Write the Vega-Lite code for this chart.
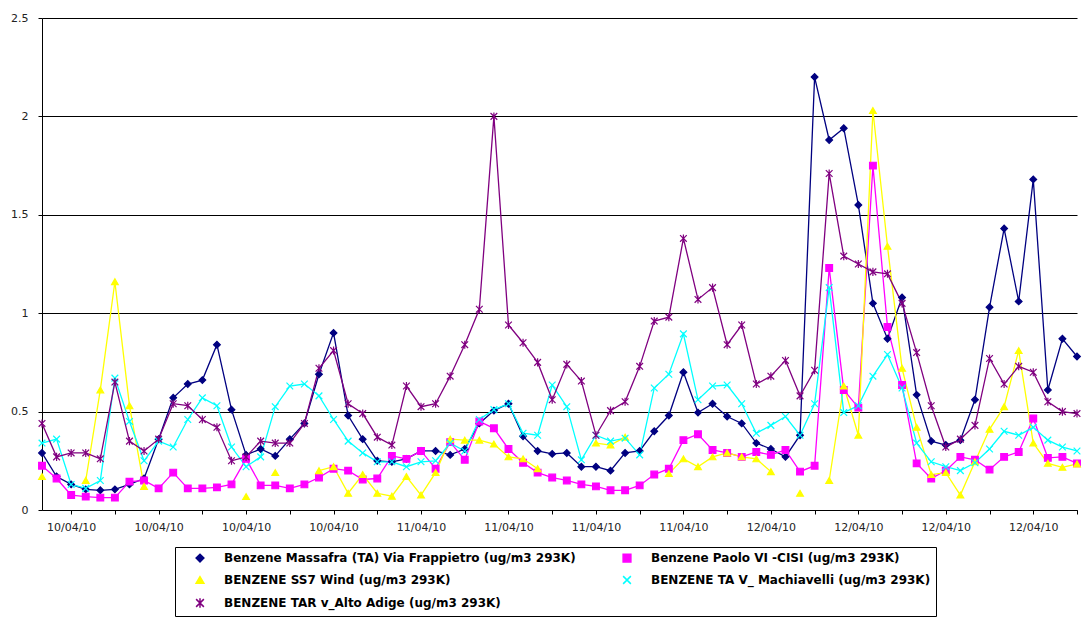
{
  "$schema": "https://vega.github.io/schema/vega-lite/v6.json",
  "width": 1035,
  "height": 492,
  "autosize": {"type": "none"},
  "padding": {"left": 42, "top": 18, "right": 10, "bottom": 107},
  "background": "white",
  "config": {"view": {"stroke": null}},
  "data": {"values": [
    {"t": "2010-04-10T01:00", "Massafra": 0.29, "Paolo VI": 0.225, "SS7": 0.17, "Machiavelli": 0.34, "Alto Adige": 0.44},
    {"t": "2010-04-10T02:00", "Massafra": 0.17, "Paolo VI": 0.16, "SS7": null, "Machiavelli": 0.36, "Alto Adige": 0.27},
    {"t": "2010-04-10T03:00", "Massafra": 0.13, "Paolo VI": 0.076, "SS7": null, "Machiavelli": 0.13, "Alto Adige": 0.29},
    {"t": "2010-04-10T04:00", "Massafra": 0.105, "Paolo VI": 0.068, "SS7": 0.15, "Machiavelli": 0.11, "Alto Adige": 0.29},
    {"t": "2010-04-10T05:00", "Massafra": 0.10, "Paolo VI": 0.063, "SS7": 0.61, "Machiavelli": 0.15, "Alto Adige": 0.26},
    {"t": "2010-04-10T06:00", "Massafra": 0.105, "Paolo VI": 0.063, "SS7": 1.16, "Machiavelli": 0.67, "Alto Adige": 0.65},
    {"t": "2010-04-10T07:00", "Massafra": 0.13, "Paolo VI": 0.144, "SS7": 0.53, "Machiavelli": 0.45, "Alto Adige": 0.35},
    {"t": "2010-04-10T08:00", "Massafra": 0.16, "Paolo VI": 0.15, "SS7": 0.12, "Machiavelli": 0.25, "Alto Adige": 0.30},
    {"t": "2010-04-10T09:00", "Massafra": 0.36, "Paolo VI": 0.11, "SS7": null, "Machiavelli": 0.35, "Alto Adige": 0.36},
    {"t": "2010-04-10T10:00", "Massafra": 0.57, "Paolo VI": 0.19, "SS7": null, "Machiavelli": 0.32, "Alto Adige": 0.54},
    {"t": "2010-04-10T11:00", "Massafra": 0.64, "Paolo VI": 0.11, "SS7": null, "Machiavelli": 0.46, "Alto Adige": 0.53},
    {"t": "2010-04-10T12:00", "Massafra": 0.66, "Paolo VI": 0.11, "SS7": null, "Machiavelli": 0.57, "Alto Adige": 0.46},
    {"t": "2010-04-10T13:00", "Massafra": 0.84, "Paolo VI": 0.115, "SS7": null, "Machiavelli": 0.53, "Alto Adige": 0.42},
    {"t": "2010-04-10T14:00", "Massafra": 0.51, "Paolo VI": 0.13, "SS7": null, "Machiavelli": 0.32, "Alto Adige": 0.25},
    {"t": "2010-04-10T15:00", "Massafra": 0.28, "Paolo VI": 0.26, "SS7": 0.068, "Machiavelli": 0.22, "Alto Adige": 0.27},
    {"t": "2010-04-10T16:00", "Massafra": 0.31, "Paolo VI": 0.125, "SS7": null, "Machiavelli": 0.27, "Alto Adige": 0.35},
    {"t": "2010-04-10T17:00", "Massafra": 0.275, "Paolo VI": 0.125, "SS7": 0.19, "Machiavelli": 0.525, "Alto Adige": 0.34},
    {"t": "2010-04-10T18:00", "Massafra": 0.36, "Paolo VI": 0.11, "SS7": null, "Machiavelli": 0.63, "Alto Adige": 0.34},
    {"t": "2010-04-10T19:00", "Massafra": 0.44, "Paolo VI": 0.13, "SS7": null, "Machiavelli": 0.64, "Alto Adige": 0.44},
    {"t": "2010-04-10T20:00", "Massafra": 0.69, "Paolo VI": 0.165, "SS7": 0.20, "Machiavelli": 0.58, "Alto Adige": 0.72},
    {"t": "2010-04-10T21:00", "Massafra": 0.90, "Paolo VI": 0.21, "SS7": 0.22, "Machiavelli": 0.46, "Alto Adige": 0.81},
    {"t": "2010-04-10T22:00", "Massafra": 0.48, "Paolo VI": 0.20, "SS7": 0.085, "Machiavelli": 0.35, "Alto Adige": 0.54},
    {"t": "2010-04-10T23:00", "Massafra": 0.36, "Paolo VI": 0.155, "SS7": 0.18, "Machiavelli": 0.29, "Alto Adige": 0.49},
    {"t": "2010-04-11T00:00", "Massafra": 0.25, "Paolo VI": 0.16, "SS7": 0.085, "Machiavelli": 0.245, "Alto Adige": 0.37},
    {"t": "2010-04-11T01:00", "Massafra": 0.245, "Paolo VI": 0.275, "SS7": 0.07, "Machiavelli": 0.245, "Alto Adige": 0.33},
    {"t": "2010-04-11T02:00", "Massafra": 0.26, "Paolo VI": 0.26, "SS7": 0.17, "Machiavelli": 0.22, "Alto Adige": 0.63},
    {"t": "2010-04-11T03:00", "Massafra": 0.30, "Paolo VI": 0.30, "SS7": 0.076, "Machiavelli": 0.245, "Alto Adige": 0.525},
    {"t": "2010-04-11T04:00", "Massafra": 0.30, "Paolo VI": 0.21, "SS7": 0.19, "Machiavelli": 0.25, "Alto Adige": 0.54},
    {"t": "2010-04-11T05:00", "Massafra": 0.28, "Paolo VI": 0.345, "SS7": 0.36, "Machiavelli": 0.34, "Alto Adige": 0.68},
    {"t": "2010-04-11T06:00", "Massafra": 0.31, "Paolo VI": 0.255, "SS7": 0.355, "Machiavelli": 0.30, "Alto Adige": 0.84},
    {"t": "2010-04-11T07:00", "Massafra": 0.44, "Paolo VI": 0.45, "SS7": 0.355, "Machiavelli": 0.46, "Alto Adige": 1.02},
    {"t": "2010-04-11T08:00", "Massafra": 0.505, "Paolo VI": 0.415, "SS7": 0.335, "Machiavelli": 0.51, "Alto Adige": 2.0},
    {"t": "2010-04-11T09:00", "Massafra": 0.54, "Paolo VI": 0.31, "SS7": 0.27, "Machiavelli": 0.54, "Alto Adige": 0.94},
    {"t": "2010-04-11T10:00", "Massafra": 0.375, "Paolo VI": 0.24, "SS7": 0.26, "Machiavelli": 0.39, "Alto Adige": 0.85},
    {"t": "2010-04-11T11:00", "Massafra": 0.30, "Paolo VI": 0.19, "SS7": 0.21, "Machiavelli": 0.38, "Alto Adige": 0.75},
    {"t": "2010-04-11T12:00", "Massafra": 0.285, "Paolo VI": 0.165, "SS7": null, "Machiavelli": 0.635, "Alto Adige": 0.56},
    {"t": "2010-04-11T13:00", "Massafra": 0.29, "Paolo VI": 0.15, "SS7": null, "Machiavelli": 0.525, "Alto Adige": 0.74},
    {"t": "2010-04-11T14:00", "Massafra": 0.22, "Paolo VI": 0.13, "SS7": null, "Machiavelli": 0.255, "Alto Adige": 0.655},
    {"t": "2010-04-11T15:00", "Massafra": 0.22, "Paolo VI": 0.12, "SS7": 0.34, "Machiavelli": 0.38, "Alto Adige": 0.38},
    {"t": "2010-04-11T16:00", "Massafra": 0.20, "Paolo VI": 0.10, "SS7": 0.33, "Machiavelli": 0.35, "Alto Adige": 0.505},
    {"t": "2010-04-11T17:00", "Massafra": 0.29, "Paolo VI": 0.10, "SS7": 0.37, "Machiavelli": 0.365, "Alto Adige": 0.55},
    {"t": "2010-04-11T18:00", "Massafra": 0.30, "Paolo VI": 0.125, "SS7": null, "Machiavelli": 0.28, "Alto Adige": 0.73},
    {"t": "2010-04-11T19:00", "Massafra": 0.40, "Paolo VI": 0.18, "SS7": null, "Machiavelli": 0.62, "Alto Adige": 0.96},
    {"t": "2010-04-11T20:00", "Massafra": 0.48, "Paolo VI": 0.21, "SS7": 0.185, "Machiavelli": 0.69, "Alto Adige": 0.98},
    {"t": "2010-04-11T21:00", "Massafra": 0.70, "Paolo VI": 0.355, "SS7": 0.26, "Machiavelli": 0.895, "Alto Adige": 1.38},
    {"t": "2010-04-11T22:00", "Massafra": 0.495, "Paolo VI": 0.385, "SS7": 0.22, "Machiavelli": 0.56, "Alto Adige": 1.07},
    {"t": "2010-04-11T23:00", "Massafra": 0.54, "Paolo VI": 0.305, "SS7": 0.27, "Machiavelli": 0.63, "Alto Adige": 1.13},
    {"t": "2010-04-12T00:00", "Massafra": 0.475, "Paolo VI": 0.29, "SS7": 0.29, "Machiavelli": 0.635, "Alto Adige": 0.84},
    {"t": "2010-04-12T01:00", "Massafra": 0.44, "Paolo VI": 0.27, "SS7": 0.27, "Machiavelli": 0.54, "Alto Adige": 0.94},
    {"t": "2010-04-12T02:00", "Massafra": 0.34, "Paolo VI": 0.295, "SS7": 0.26, "Machiavelli": 0.39, "Alto Adige": 0.64},
    {"t": "2010-04-12T03:00", "Massafra": 0.31, "Paolo VI": 0.28, "SS7": 0.195, "Machiavelli": 0.43, "Alto Adige": 0.68},
    {"t": "2010-04-12T04:00", "Massafra": 0.27, "Paolo VI": 0.305, "SS7": null, "Machiavelli": 0.475, "Alto Adige": 0.76},
    {"t": "2010-04-12T05:00", "Massafra": 0.38, "Paolo VI": 0.195, "SS7": 0.085, "Machiavelli": 0.38, "Alto Adige": 0.58},
    {"t": "2010-04-12T06:00", "Massafra": 2.20, "Paolo VI": 0.225, "SS7": null, "Machiavelli": 0.54, "Alto Adige": 0.71},
    {"t": "2010-04-12T07:00", "Massafra": 1.88, "Paolo VI": 1.23, "SS7": 0.15, "Machiavelli": 1.13, "Alto Adige": 1.71},
    {"t": "2010-04-12T08:00", "Massafra": 1.94, "Paolo VI": 0.61, "SS7": 0.63, "Machiavelli": 0.495, "Alto Adige": 1.29},
    {"t": "2010-04-12T09:00", "Massafra": 1.55, "Paolo VI": 0.52, "SS7": 0.38, "Machiavelli": 0.53, "Alto Adige": 1.25},
    {"t": "2010-04-12T10:00", "Massafra": 1.05, "Paolo VI": 1.75, "SS7": 2.03, "Machiavelli": 0.68, "Alto Adige": 1.21},
    {"t": "2010-04-12T11:00", "Massafra": 0.87, "Paolo VI": 0.93, "SS7": 1.34, "Machiavelli": 0.79, "Alto Adige": 1.20},
    {"t": "2010-04-12T12:00", "Massafra": 1.08, "Paolo VI": 0.635, "SS7": 0.72, "Machiavelli": 0.62, "Alto Adige": 1.05},
    {"t": "2010-04-12T13:00", "Massafra": 0.585, "Paolo VI": 0.237, "SS7": 0.42, "Machiavelli": 0.34, "Alto Adige": 0.80},
    {"t": "2010-04-12T14:00", "Massafra": 0.35, "Paolo VI": 0.16, "SS7": 0.18, "Machiavelli": 0.245, "Alto Adige": 0.53},
    {"t": "2010-04-12T15:00", "Massafra": 0.33, "Paolo VI": 0.20, "SS7": 0.19, "Machiavelli": 0.22, "Alto Adige": 0.32},
    {"t": "2010-04-12T16:00", "Massafra": 0.355, "Paolo VI": 0.27, "SS7": 0.076, "Machiavelli": 0.20, "Alto Adige": 0.36},
    {"t": "2010-04-12T17:00", "Massafra": 0.56, "Paolo VI": 0.255, "SS7": 0.245, "Machiavelli": 0.24, "Alto Adige": 0.43},
    {"t": "2010-04-12T18:00", "Massafra": 1.03, "Paolo VI": 0.205, "SS7": 0.41, "Machiavelli": 0.31, "Alto Adige": 0.77},
    {"t": "2010-04-12T19:00", "Massafra": 1.43, "Paolo VI": 0.27, "SS7": 0.525, "Machiavelli": 0.40, "Alto Adige": 0.64},
    {"t": "2010-04-12T20:00", "Massafra": 1.06, "Paolo VI": 0.295, "SS7": 0.81, "Machiavelli": 0.38, "Alto Adige": 0.73},
    {"t": "2010-04-12T21:00", "Massafra": 1.68, "Paolo VI": 0.465, "SS7": 0.34, "Machiavelli": 0.42, "Alto Adige": 0.70},
    {"t": "2010-04-12T22:00", "Massafra": 0.61, "Paolo VI": 0.265, "SS7": 0.237, "Machiavelli": 0.355, "Alto Adige": 0.55},
    {"t": "2010-04-12T23:00", "Massafra": 0.87, "Paolo VI": 0.27, "SS7": 0.217, "Machiavelli": 0.32, "Alto Adige": 0.50},
    {"t": "2010-04-13T00:00", "Massafra": 0.78, "Paolo VI": 0.237, "SS7": 0.234, "Machiavelli": 0.30, "Alto Adige": 0.49}
  ]},
  "transform": [
    {"fold": ["Massafra", "Paolo VI", "SS7", "Machiavelli", "Alto Adige"], "as": ["series", "v"]}
  ],
  "encoding": {
    "x": {
      "field": "t", "type": "temporal",
      "scale": {"nice": false},
      "axis": {
        "title": null, "grid": false, "format": "%d/%m/%y",
        "tickSize": 4, "tickColor": "#000", "domainColor": "#000",
        "labelPadding": 7, "labelFont": "DejaVu Sans", "labelFontSize": 11, "labelColor": "#222"
      }
    },
    "y": {
      "field": "v", "type": "quantitative",
      "scale": {"domain": [0, 2.5], "nice": false},
      "axis": {
        "title": null, "values": [0, 0.5, 1, 1.5, 2, 2.5],
        "grid": true, "gridColor": "#000", "gridOpacity": 1, "gridWidth": 1,
        "domainColor": "#000", "tickColor": "#000", "tickSize": 4,
        "labelPadding": 10, "format": "~g",
        "labelFont": "DejaVu Sans", "labelFontSize": 11, "labelColor": "#222"
      }
    }
  },
  "layer": [
    {
      "mark": {"type": "line", "strokeWidth": 1.3},
      "encoding": {
        "color": {
          "field": "series", "type": "nominal",
          "scale": {"domain": ["Massafra", "Paolo VI", "SS7", "Machiavelli", "Alto Adige"], "range": ["#000080", "#FF00FF", "#FFFF00", "#00FFFF", "#800080"]},
          "legend": {"orient": "none", "legendX": 133, "legendY": 529, "title": null, "columns": 2, "direction": "horizontal",
            "fillColor": "white", "strokeColor": "black", "padding": 5,
            "symbolSize": 60, "symbolOffset": 14, "labelOffset": 18, "rowPadding": 8, "columnPadding": 31,
            "labelFont": "DejaVu Sans", "labelFontSize": 12, "labelFontWeight": "bold", "labelColor": "#000", "labelLimit": 800,
            "labelExpr": "datum.value == 'Massafra' ? 'Benzene Massafra (TA) Via Frappietro (ug/m3 293K)' : datum.value == 'Paolo VI' ? 'Benzene Paolo VI -CISI (ug/m3 293K)' : datum.value == 'SS7' ? 'BENZENE SS7 Wind (ug/m3 293K)' : datum.value == 'Machiavelli' ? 'BENZENE TA V_ Machiavelli (ug/m3 293K)' : 'BENZENE TAR v_Alto Adige (ug/m3 293K)'"
          }
        }
      }
    },
    {
      "mark": {"type": "point", "filled": true, "strokeWidth": 1.2, "opacity": 1, "size": 45},
      "encoding": {
        "shape": {
          "field": "series", "type": "nominal", "legend": null,
          "scale": {"domain": ["Massafra", "Paolo VI", "SS7", "Machiavelli", "Alto Adige"], "range": ["diamond", "square", "triangle-up", "M-1,-1L1,1M-1,1L1,-1", "M-1,-1L1,1M-1,1L1,-1M0,-1.2L0,1.2"]}
        },
        "fill": {
          "field": "series", "type": "nominal", "legend": null,
          "scale": {"domain": ["Massafra", "Paolo VI", "SS7", "Machiavelli", "Alto Adige"], "range": ["#000080", "#FF00FF", "#FFFF00", "#00FFFF", "#800080"]}
        },
        "stroke": {
          "field": "series", "type": "nominal", "legend": null,
          "scale": {"domain": ["Massafra", "Paolo VI", "SS7", "Machiavelli", "Alto Adige"], "range": ["#000080", "#FF00FF", "#FFFF00", "#00FFFF", "#800080"]}
        }
      }
    }
  ]
}
